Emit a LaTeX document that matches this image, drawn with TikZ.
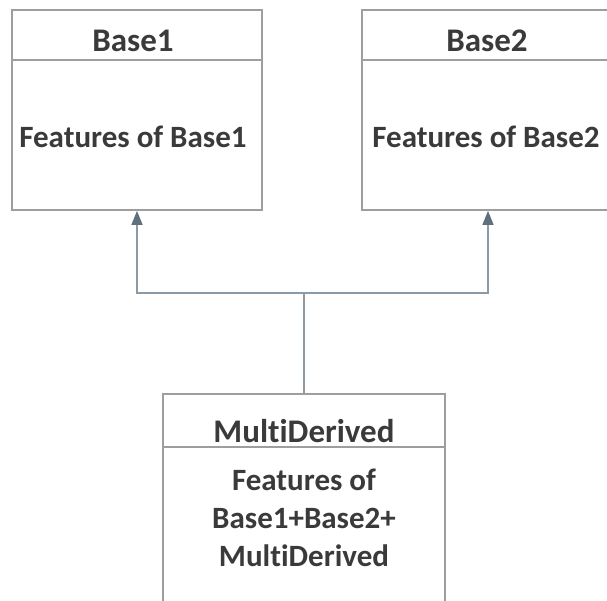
\documentclass[tikz,border=0pt]{standalone}
\usepackage{fontspec}
\setmainfont{Carlito}[Ligatures={NoCommon,NoDiscretionary,NoContextual},RawFeature={-clig}]
\usetikzlibrary{arrows.meta}
\definecolor{boxgray}{HTML}{9E9E9E}
\definecolor{linegray}{HTML}{8C9AA5}
\definecolor{headgray}{HTML}{5F6F7C}
\definecolor{txt}{HTML}{3A3A3A}
\newcommand{\mdname}{Mul\kern0ptti\kern0ptDerived}
\tikzset{
  classbox/.style={draw=boxgray, line width=1.8pt, fill=none, inner sep=0pt},
  divider/.style={draw=boxgray, line width=1.8pt},
  title/.style={anchor=base, text=txt, font=\bfseries\fontsize{33}{38}\selectfont, inner sep=0pt},
  body/.style={anchor=base, text=txt, font=\bfseries\fontsize{31}{38}\selectfont, inner sep=0pt, align=center},
  conn/.style={draw=linegray, line width=1.5pt},
  arr/.style={conn, -{Triangle[width=11pt,length=14pt,color=headgray]}}
}
\begin{document}
\begin{tikzpicture}[x=1pt,y=-1pt]
\useasboundingbox (0,0) rectangle (607,601);
\begin{scope}
\clip (0,0) rectangle (607,601);
% boxes
\node[classbox, minimum width=250pt, minimum height=200pt] (b1) at (137,110) {};
\node[classbox, minimum width=252pt, minimum height=200pt] (b2) at (488,110) {};
\node[classbox, minimum width=282pt, minimum height=226pt] (md) at (304,507) {};
\draw[divider] (b1.west |- 0,60) -- (b1.east |- 0,60);
\draw[divider] (b2.west |- 0,60) -- (b2.east |- 0,60);
\draw[divider] (md.west |- 0,447) -- (md.east |- 0,447);
\end{scope}
% texts
\node[title] (t1) at (133,52) {Base1};
\node[body] (f1) at (133,148) {Features of Base1};
\node[title] (t2) at (487,52) {Base2};
\node[body] (f2) at (486,148) {Features of Base2};
\node[title] (tm) at (304,442) {\mdname};
\node[body] (fm1) at (304,490) {Features of};
\node[body] (fm2) at (304,528) {Base1+Base2+};
\node[body] (fm3) at (304,566) {\mdname};
% connectors
\coordinate (j) at (304,293);
\draw[conn] (md.north) -- (j);
\draw[arr] (j) -| (b1.south);
\draw[arr] (j) -| (b2.south);
\end{tikzpicture}
\end{document}
